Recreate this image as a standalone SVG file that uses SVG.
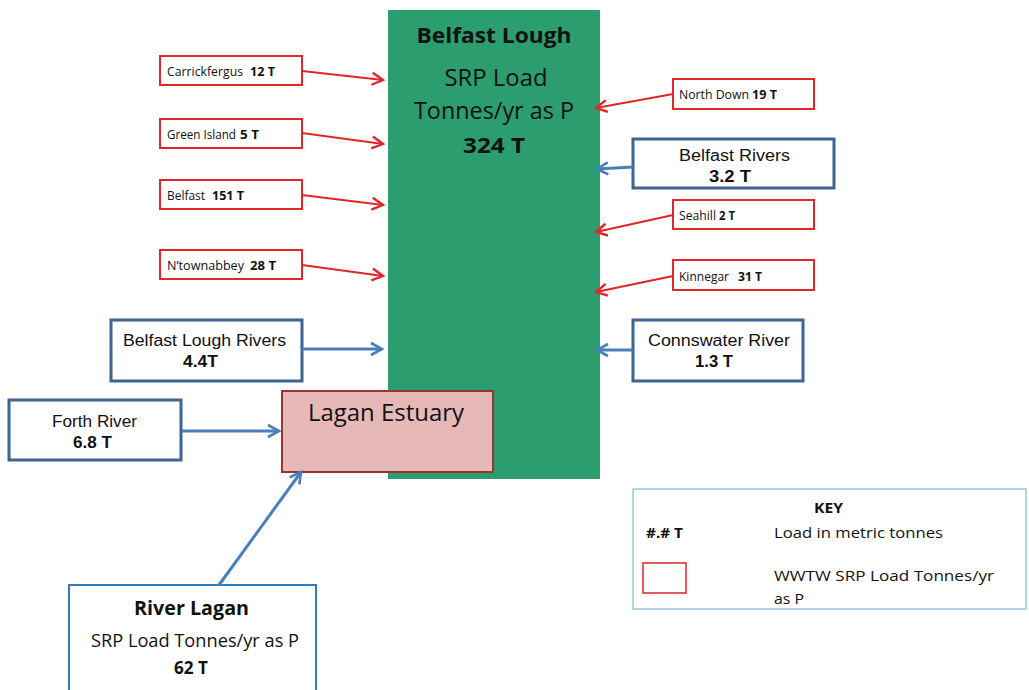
<svg xmlns="http://www.w3.org/2000/svg" width="1029" height="690" viewBox="0 0 1029 690">
<style>
.red{fill:#fff;stroke:#e3262a;stroke-width:2}
.blue{fill:#fff;stroke:#3f6393;stroke-width:3}
.t{font-family:"Liberation Sans",Arial,sans-serif;fill:#111}
.c{font-family:"Open Sans","Liberation Sans",sans-serif;fill:#111}
.sm{font-size:12.5px}
.md{font-size:16px}
.b{font-weight:bold}
.ra{stroke:#e3262a;stroke-width:2.2;fill:none}
.ba{stroke:#4a7ebb;stroke-width:3;fill:none}
</style>
<defs>
<marker id="mr" markerUnits="userSpaceOnUse" markerWidth="16" markerHeight="16" refX="13" refY="8" orient="auto" viewBox="0 0 16 16">
<path d="M2,2 L13,8 L2,14" fill="none" stroke="#e3262a" stroke-width="2.4"/>
</marker>
<marker id="mb" markerUnits="userSpaceOnUse" markerWidth="16" markerHeight="16" refX="13" refY="8" orient="auto" viewBox="0 0 16 16">
<path d="M2,2 L13,8 L2,14" fill="none" stroke="#4a7ebb" stroke-width="2.6"/>
</marker>
</defs>
<rect width="1029" height="690" fill="#fff"/>
<g id="belfast-lough">
<rect x="388" y="10" width="212" height="469" fill="#2b9d6f"/>
<text class="c b" x="494" y="43" font-size="22" text-anchor="middle" textLength="155" lengthAdjust="spacingAndGlyphs">Belfast Lough</text>
<text class="c" x="496" y="86" font-size="23" text-anchor="middle" textLength="103" lengthAdjust="spacingAndGlyphs">SRP Load</text>
<text class="c" x="494" y="119" font-size="23" text-anchor="middle" textLength="160" lengthAdjust="spacingAndGlyphs">Tonnes/yr as P</text>
<text class="c b" x="494" y="153" font-size="22" text-anchor="middle" textLength="62" lengthAdjust="spacingAndGlyphs">324 T</text>
</g>
<g id="lagan-estuary">
<rect x="282" y="391" width="211" height="81" fill="#e6b8b7" stroke="#943634" stroke-width="2"/>
<text class="c" x="386" y="421" font-size="23" text-anchor="middle" textLength="156" lengthAdjust="spacingAndGlyphs">Lagan Estuary</text>
</g>
<g id="carrickfergus"><rect class="red" x="160" y="56" width="142" height="29"/><text class="c sm" x="167" y="76" textLength="76" lengthAdjust="spacingAndGlyphs">Carrickfergus</text><text class="c sm b" x="250" y="76" textLength="25" lengthAdjust="spacingAndGlyphs">12 T</text></g>
<g id="green-island"><rect class="red" x="160" y="119" width="142" height="29"/><text class="c sm" x="167" y="139" textLength="69" lengthAdjust="spacingAndGlyphs">Green Island</text><text class="c sm b" x="240" y="139" textLength="19" lengthAdjust="spacingAndGlyphs">5 T</text></g>
<g id="belfast"><rect class="red" x="160" y="180" width="142" height="29"/><text class="c sm" x="167" y="200" textLength="38" lengthAdjust="spacingAndGlyphs">Belfast</text><text class="c sm b" x="212" y="200" textLength="32" lengthAdjust="spacingAndGlyphs">151 T</text></g>
<g id="ntownabbey"><rect class="red" x="160" y="250" width="142" height="29"/><text class="c sm" x="167" y="270" textLength="77" lengthAdjust="spacingAndGlyphs">N’townabbey</text><text class="c sm b" x="250" y="270" textLength="26" lengthAdjust="spacingAndGlyphs">28 T</text></g>
<g id="north-down"><rect class="red" x="673" y="79" width="141" height="30"/><text class="c sm" x="679" y="99" textLength="70" lengthAdjust="spacingAndGlyphs">North Down</text><text class="c sm b" x="752" y="99" textLength="25" lengthAdjust="spacingAndGlyphs">19 T</text></g>
<g id="seahill"><rect class="red" x="673" y="200" width="141" height="29"/><text class="c sm" x="679" y="220" textLength="37" lengthAdjust="spacingAndGlyphs">Seahill</text><text class="c sm b" x="719" y="220" textLength="16" lengthAdjust="spacingAndGlyphs">2 T</text></g>
<g id="kinnegar"><rect class="red" x="673" y="260" width="141" height="30"/><text class="c sm" x="679" y="281" textLength="50" lengthAdjust="spacingAndGlyphs">Kinnegar</text><text class="c sm b" x="738" y="281" textLength="24" lengthAdjust="spacingAndGlyphs">31 T</text></g>
<g id="belfast-rivers"><rect class="blue" x="633" y="139" width="201" height="49"/><text class="t md" x="734.5" y="161" text-anchor="middle" textLength="111" lengthAdjust="spacingAndGlyphs">Belfast Rivers</text><text class="t md b" x="730" y="182" text-anchor="middle" textLength="42" lengthAdjust="spacingAndGlyphs">3.2 T</text></g>
<g id="belfast-lough-rivers"><rect class="blue" x="111" y="320" width="191" height="61"/><text class="t md" x="204.5" y="346" text-anchor="middle" textLength="163" lengthAdjust="spacingAndGlyphs">Belfast Lough Rivers</text><text class="t md b" x="200.5" y="367" text-anchor="middle" textLength="35" lengthAdjust="spacingAndGlyphs">4.4T</text></g>
<g id="connswater-river"><rect class="blue" x="633" y="320" width="170" height="61"/><text class="t md" x="719" y="346" text-anchor="middle" textLength="142" lengthAdjust="spacingAndGlyphs">Connswater River</text><text class="t md b" x="714" y="367" text-anchor="middle" textLength="38" lengthAdjust="spacingAndGlyphs">1.3 T</text></g>
<g id="forth-river"><rect class="blue" x="9" y="400" width="172" height="60"/><text class="t md" x="94.5" y="427" text-anchor="middle" textLength="85" lengthAdjust="spacingAndGlyphs">Forth River</text><text class="t md b" x="92.5" y="448" text-anchor="middle" textLength="39" lengthAdjust="spacingAndGlyphs">6.8 T</text></g>
<g id="river-lagan"><rect x="69" y="585" width="247" height="110" fill="#fff" stroke="#2f7dbd" stroke-width="2"/>
<text class="c b" x="191.5" y="615" font-size="20" text-anchor="middle" textLength="115" lengthAdjust="spacingAndGlyphs">River Lagan</text>
<text class="c" x="195" y="647" font-size="18" text-anchor="middle" textLength="208" lengthAdjust="spacingAndGlyphs">SRP Load Tonnes/yr as P</text>
<text class="c b" x="191" y="674" font-size="17" text-anchor="middle" textLength="34" lengthAdjust="spacingAndGlyphs">62 T</text></g>
<g id="key">
<rect x="633" y="489" width="393" height="120" fill="#fff" stroke="#93cddd" stroke-width="1.5"/>
<text class="c b" x="828.5" y="513" font-size="15" text-anchor="middle" textLength="29" lengthAdjust="spacingAndGlyphs">KEY</text>
<text class="c b" x="646" y="538" font-size="15" textLength="37" lengthAdjust="spacingAndGlyphs">#.# T</text>
<text class="c" x="774" y="538" font-size="15" textLength="169" lengthAdjust="spacingAndGlyphs">Load in metric tonnes</text>
<rect x="643" y="563" width="43" height="30" fill="#fff" stroke="#d9262a" stroke-width="1.5"/>
<text class="c" x="774" y="581" font-size="15" textLength="220" lengthAdjust="spacingAndGlyphs">WWTW SRP Load Tonnes/yr</text>
<text class="c" x="774" y="604" font-size="15" textLength="30" lengthAdjust="spacingAndGlyphs">as P</text>
</g>
<g id="connectors">
<line class="ra" x1="302" y1="71" x2="383" y2="80" marker-end="url(#mr)"/>
<line class="ra" x1="302" y1="133" x2="383" y2="144" marker-end="url(#mr)"/>
<line class="ra" x1="302" y1="195" x2="383" y2="205" marker-end="url(#mr)"/>
<line class="ra" x1="302" y1="265" x2="383" y2="276" marker-end="url(#mr)"/>
<line class="ra" x1="673" y1="94" x2="596" y2="108" marker-end="url(#mr)"/>
<line class="ra" x1="673" y1="215" x2="596" y2="232" marker-end="url(#mr)"/>
<line class="ra" x1="673" y1="276" x2="596" y2="292" marker-end="url(#mr)"/>
<line class="ba" x1="633" y1="167" x2="597" y2="169" marker-end="url(#mb)"/>
<line class="ba" x1="633" y1="350" x2="597" y2="350" marker-end="url(#mb)"/>
<line class="ba" x1="302" y1="349" x2="382" y2="349" marker-end="url(#mb)"/>
<line class="ba" x1="182" y1="431" x2="279" y2="431" marker-end="url(#mb)"/>
<line class="ba" x1="219" y1="585" x2="301" y2="472" marker-end="url(#mb)"/>
</g>
</svg>
